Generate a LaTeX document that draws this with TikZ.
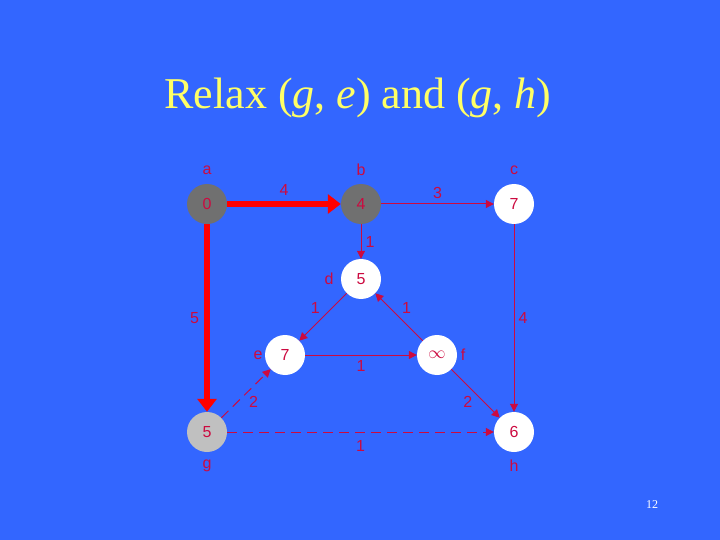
\documentclass[tikz,border=0pt]{standalone}
\usepackage{fontspec}
\setmainfont{Liberation Serif}
\newfontfamily\arialfont{Liberation Sans}
\usetikzlibrary{arrows.meta,positioning}
\definecolor{slideblue}{RGB}{51,102,255}
\definecolor{slideyellow}{RGB}{255,255,102}
\definecolor{edgered}{RGB}{204,10,64}
\definecolor{treered}{RGB}{255,0,0}
\definecolor{donegray}{RGB}{112,112,112}
\definecolor{lightgray}{RGB}{192,192,192}

\begin{document}
\begin{tikzpicture}[x=1pt, y=-1pt,
    vertex/.style={circle, minimum size=40pt, inner sep=0pt, fill=white, text=edgered, font=\arialfont\fontsize{16}{16}\selectfont},
    vname/.style={text=edgered, font=\arialfont\fontsize{16}{16}\selectfont},
    wt/.style={text=edgered, font=\arialfont\fontsize{16}{16}\selectfont, inner sep=2pt},
    edge/.style={-{Triangle[length=8pt, width=8pt]}, line width=1pt, edgered},
    tree/.style={-{Triangle[length=13pt, width=19pt]}, line width=6pt, treered},
    trial/.style={edge, dash pattern=on 10pt off 6pt}]
    % Slide background
    \fill[slideblue] (0,0) rectangle (720,540);
    \useasboundingbox (0,0) rectangle (720,540);

    \node[text=slideyellow, anchor=base, font=\fontsize{44}{48}\selectfont] (TITLE) at (358,109) {Relax (\textit{g}, \textit{e}) and (\textit{g}, \textit{h})};

    % Vertices
    \node[vertex, fill=donegray] (A) at (207,204) {0};
    \node[vertex, fill=donegray] (B) at (361,204) {4};
    \node[vertex] (C) at (514,204) {7};
    \node[vertex] (D) at (361,279) {5};
    \node[vertex] (E) at (285,355) {7};
    \node[vertex] (F) at (437,355) {$\infty$};
    \node[vertex, fill=lightgray] (G) at (207,432) {5};
    \node[vertex] (H) at (514,432) {6};

    % Vertex names
    \node[vname] (A_NAME) at (207,170) {a};
    \node[vname] (B_NAME) at (361,170) {b};
    \node[vname] (C_NAME) at (514,170) {c};
    \node[vname] (D_NAME) at (329,279) {d};
    \node[vname] (E_NAME) at (258,355) {e};
    \node[vname] (F_NAME) at (463,355) {f};
    \node[vname] (G_NAME) at (207,466) {g};
    \node[vname] (H_NAME) at (514,466) {h};

    % Edges
    \draw[tree] (A) -- (B) node[wt, midway, above=3pt] {4};
    \draw[tree] (A) -- (G) node[wt, midway, left=3pt] {5};
    \draw[edge] (B) -- (C) node[wt, midway, above=3pt] {3};
    \draw[edge] (B) -- (D) node[wt, midway, right=2pt] {1};
    \draw[edge] (D) -- (E) node[wt, midway, above left=1pt] {1};
    \draw[edge] (F) -- (D) node[wt, midway, above right=1pt] {1};
    \draw[edge] (E) -- (F) node[wt, midway, below=3pt] {1};
    \draw[edge] (C) -- (H) node[wt, midway, right=2pt] {4};
    \draw[edge] (F) -- (H) node[wt, midway, below left=1pt] {2};
    \draw[trial] (G) -- (E) node[wt, midway, below right=1pt] {2};
    \draw[trial] (G) -- (H) node[wt, midway, below=6pt] {1};

    \node[text=white, font=\fontsize{12}{12}\selectfont] (PAGE) at (652,505) {12};
\end{tikzpicture}
\end{document}
